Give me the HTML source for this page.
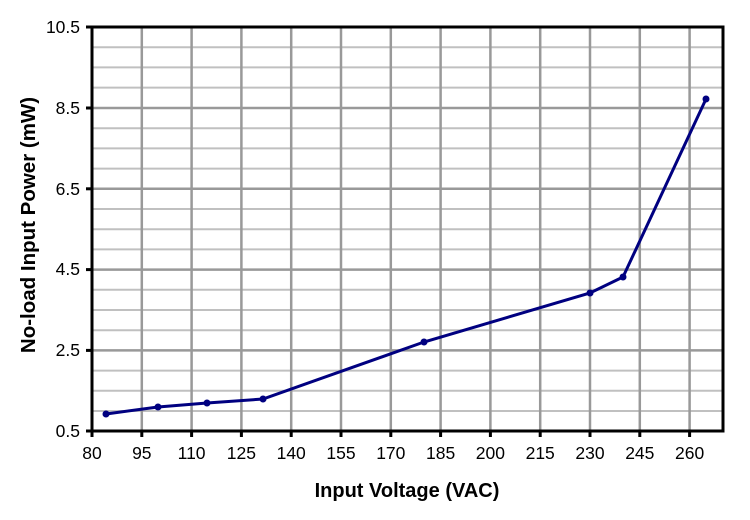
<!DOCTYPE html>
<html><head><style>body{margin:0;background:#fff}</style></head><body>
<svg width="750" height="515" xmlns="http://www.w3.org/2000/svg" font-family="Liberation Sans, sans-serif">
<g stroke="#c0c0c0" stroke-width="2">
<line x1="92" x2="723" y1="47.2" y2="47.2"/><line x1="92" x2="723" y1="67.4" y2="67.4"/><line x1="92" x2="723" y1="87.6" y2="87.6"/>
<line x1="92" x2="723" y1="128.2" y2="128.2"/><line x1="92" x2="723" y1="148.4" y2="148.4"/><line x1="92" x2="723" y1="168.6" y2="168.6"/>
<line x1="92" x2="723" y1="209" y2="209"/><line x1="92" x2="723" y1="229.2" y2="229.2"/><line x1="92" x2="723" y1="249.4" y2="249.4"/>
<line x1="92" x2="723" y1="289.8" y2="289.8"/><line x1="92" x2="723" y1="310" y2="310"/><line x1="92" x2="723" y1="330.2" y2="330.2"/>
<line x1="92" x2="723" y1="370.6" y2="370.6"/><line x1="92" x2="723" y1="390.8" y2="390.8"/><line x1="92" x2="723" y1="411" y2="411"/>
</g>
<g stroke="#999" stroke-width="2.5">
<line x1="92" x2="723" y1="108" y2="108"/><line x1="92" x2="723" y1="188.8" y2="188.8"/><line x1="92" x2="723" y1="269.6" y2="269.6"/><line x1="92" x2="723" y1="350.4" y2="350.4"/>
<line x1="141.8" x2="141.8" y1="27" y2="431"/><line x1="191.6" x2="191.6" y1="27" y2="431"/><line x1="241.4" x2="241.4" y1="27" y2="431"/><line x1="291.2" x2="291.2" y1="27" y2="431"/><line x1="341" x2="341" y1="27" y2="431"/><line x1="390.8" x2="390.8" y1="27" y2="431"/><line x1="440.6" x2="440.6" y1="27" y2="431"/><line x1="490.4" x2="490.4" y1="27" y2="431"/><line x1="540.2" x2="540.2" y1="27" y2="431"/><line x1="590" x2="590" y1="27" y2="431"/><line x1="639.8" x2="639.8" y1="27" y2="431"/><line x1="689.6" x2="689.6" y1="27" y2="431"/>
</g>
<rect x="92" y="27" width="631" height="404" fill="none" stroke="#000" stroke-width="3"/>
<g stroke="#000" stroke-width="3">
<line x1="86" x2="92" y1="27" y2="27"/><line x1="86" x2="92" y1="108" y2="108"/><line x1="86" x2="92" y1="188.8" y2="188.8"/><line x1="86" x2="92" y1="269.6" y2="269.6"/><line x1="86" x2="92" y1="350.4" y2="350.4"/><line x1="86" x2="92" y1="431" y2="431"/>
<line x1="92" x2="92" y1="431" y2="437"/><line x1="141.8" x2="141.8" y1="431" y2="437"/><line x1="191.6" x2="191.6" y1="431" y2="437"/><line x1="241.4" x2="241.4" y1="431" y2="437"/><line x1="291.2" x2="291.2" y1="431" y2="437"/><line x1="341" x2="341" y1="431" y2="437"/><line x1="390.8" x2="390.8" y1="431" y2="437"/><line x1="440.6" x2="440.6" y1="431" y2="437"/><line x1="490.4" x2="490.4" y1="431" y2="437"/><line x1="540.2" x2="540.2" y1="431" y2="437"/><line x1="590" x2="590" y1="431" y2="437"/><line x1="639.8" x2="639.8" y1="431" y2="437"/><line x1="689.6" x2="689.6" y1="431" y2="437"/>
</g>
<polyline fill="none" stroke="#000080" stroke-width="3" points="106,414 158,407 207,403 263,399 424,342 590,293 623,277 706,99"/>
<g fill="#000080">
<circle cx="106" cy="414" r="3.5"/><circle cx="158" cy="407" r="3.5"/><circle cx="207" cy="403" r="3.5"/><circle cx="263" cy="399" r="3.5"/><circle cx="424" cy="342" r="3.5"/><circle cx="590" cy="293" r="3.5"/><circle cx="623" cy="277" r="3.5"/><circle cx="706" cy="99" r="3.5"/>
</g>
<g font-size="17.5" text-anchor="end" fill="#000">
<text x="80" y="33">10.5</text><text x="80" y="114">8.5</text><text x="80" y="195">6.5</text><text x="80" y="275">4.5</text><text x="80" y="356">2.5</text><text x="80" y="437">0.5</text>
</g>
<g font-size="17.5" text-anchor="middle" fill="#000">
<text x="92" y="459">80</text><text x="141.8" y="459">95</text><text x="191.6" y="459">110</text><text x="241.4" y="459">125</text><text x="291.2" y="459">140</text><text x="341" y="459">155</text><text x="390.8" y="459">170</text><text x="440.6" y="459">185</text><text x="490.4" y="459">200</text><text x="540.2" y="459">215</text><text x="590" y="459">230</text><text x="639.8" y="459">245</text><text x="689.6" y="459">260</text>
</g>
<text x="407" y="497" font-size="20" font-weight="bold" text-anchor="middle">Input Voltage (VAC)</text>
<text transform="translate(35,225) rotate(-90)" font-size="20.5" font-weight="bold" text-anchor="middle">No-load Input Power (mW)</text>
</svg>
</body></html>
